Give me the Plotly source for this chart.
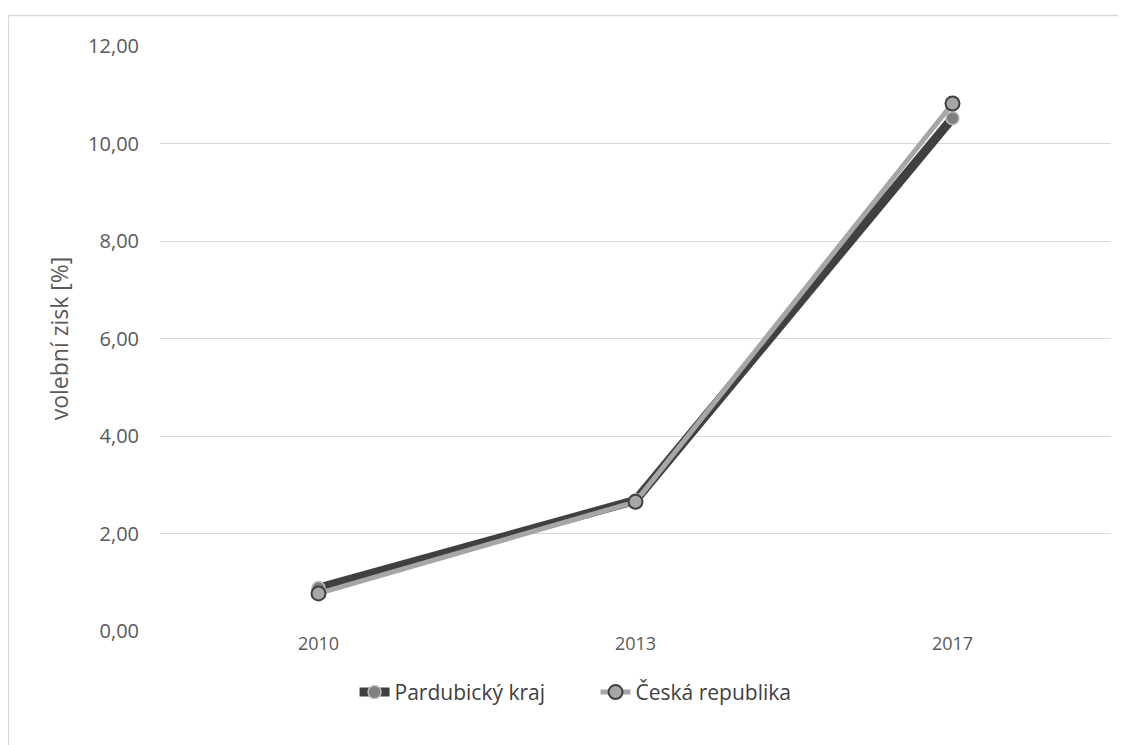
import plotly.graph_objects as go

years = ["2010", "2013", "2017"]
pardubicky = [0.88, 2.68, 10.52]
ceska = [0.77, 2.65, 10.82]
y_ticks = [0, 2, 4, 6, 8, 10, 12]

# page body has an 8px default margin; figure sized so it ends at the window edge
W, H = 1118, 737
L, T, R, B = 152, 38, 15, 114
PW, PH = W - L - R, H - T - B

fig = go.Figure()
fig.add_trace(go.Scatter(
    x=years, y=pardubicky, name="Pardubický kraj", mode="lines+markers",
    line=dict(color="#404040", width=9),
    marker=dict(size=13, color="#7f7f7f", line=dict(color="#bfbfbf", width=1.5)),
))
fig.add_trace(go.Scatter(
    x=years, y=ceska, name="Česká republika", mode="lines+markers",
    line=dict(color="#a6a6a6", width=5),
    marker=dict(size=14, color="#a6a6a6", line=dict(color="#404040", width=2)),
))

fig.update_layout(
    width=W, height=H,
    margin=dict(l=L, r=R, t=T, b=B, autoexpand=False),
    paper_bgcolor="white", plot_bgcolor="white",
    separators=", ",
    font=dict(family="Open Sans, Liberation Sans, sans-serif", size=15, color="#595959"),
    showlegend=True,
    legend=dict(orientation="h", x=0.458, xanchor="center", y=-0.07, yanchor="top",
                entrywidth=196, entrywidthmode="pixels",
                font=dict(size=21, color="#404040")),
    xaxis=dict(type="category", range=[-0.5, 2.5], showgrid=False, showline=False, ticks="",
               tickfont=dict(size=18, color="#595959"), automargin=False),
    yaxis=dict(range=[0, 12], tickvals=y_ticks, tickformat=".2f",
               showgrid=True, gridcolor="#d9d9d9", gridwidth=1.3,
               zeroline=False, showline=False, ticks="", automargin=False,
               ticklabelstandoff=20,
               tickfont=dict(size=20, color="#595959"),
               title=dict(text="volební zisk [%]", font=dict(size=23, color="#595959"), standoff=13)),
    shapes=[dict(type="rect", xref="paper", yref="paper",
                 x0=(0.5 - L) / PW, x1=1.1, y0=-0.4, y1=1 + (T - 7.5) / PH,
                 line=dict(color="#d9d9d9", width=1.3), fillcolor="rgba(0,0,0,0)", layer="below")],
)

fig.write_html("out.html")
